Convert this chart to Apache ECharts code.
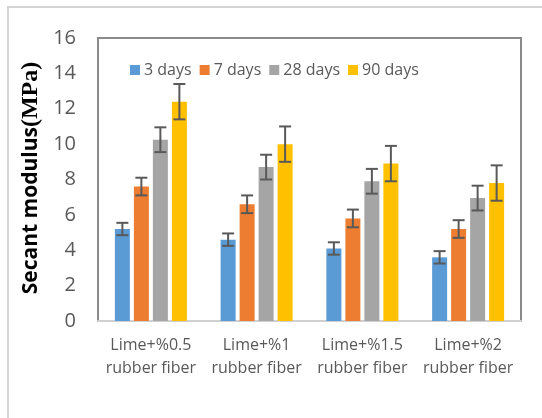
<!DOCTYPE html>
<html><head><meta charset="utf-8">
<script src="https://cdn.jsdelivr.net/npm/echarts@6/dist/echarts.min.js"></script>
<style>html,body{margin:0;padding:0;background:#fff}#c{width:542px;height:418px}</style>
</head><body><div id="c"></div>
<script>
const categories = ['Lime+%0.5\nrubber fiber','Lime+%1\nrubber fiber','Lime+%1.5\nrubber fiber','Lime+%2\nrubber fiber'];
const seriesNames = ['3 days','7 days','28 days','90 days'];
const colors = ['#5B9BD5','#ED7D31','#A5A5A5','#FFC000'];
const days3 = [5.2, 4.6, 4.1, 3.6];
const days7 = [7.6, 6.6, 5.8, 5.2];
const days28 = [10.25, 8.7, 7.9, 6.95];
const days90 = [12.4, 10.0, 8.9, 7.8];
const err3 = [0.35, 0.35, 0.35, 0.35];
const err7 = [0.5, 0.5, 0.5, 0.5];
const err28 = [0.7, 0.7, 0.7, 0.7];
const err90 = [1.0, 1.0, 1.0, 1.0];
const yTicks = [0, 2, 4, 6, 8, 10, 12, 14, 16];

const values = [days3, days7, days28, days90];
const errs = [err3, err7, err28, err90];
const BW = 15, GAP = 4;
const chart = echarts.init(document.getElementById('c'));
const series = [];
values.forEach((v, i) => {
  series.push({
    name: seriesNames[i], type: 'bar', data: v, barWidth: BW, barGap: (GAP / BW * 100) + '%',
    itemStyle: { color: colors[i] }, z: 2
  });
});
values.forEach((v, i) => {
  const offset = (i - 1.5) * (BW + GAP);
  series.push({
    type: 'custom', z: 5, silent: true,
    data: v.map((val, k) => [k, val - errs[i][k], val + errs[i][k]]),
    encode: { x: 0, y: [1, 2] },
    renderItem: function (params, api) {
      const lo = api.coord([api.value(0), api.value(1)]);
      const hi = api.coord([api.value(0), api.value(2)]);
      const x = lo[0] + offset, hw = 6;
      const st = { stroke: '#595959', lineWidth: 2 };
      return { type: 'group', children: [
        { type: 'line', shape: { x1: x, y1: hi[1], x2: x, y2: lo[1] }, style: st },
        { type: 'line', shape: { x1: x - hw, y1: hi[1], x2: x + hw, y2: hi[1] }, style: st },
        { type: 'line', shape: { x1: x - hw, y1: lo[1], x2: x + hw, y2: lo[1] }, style: st }
      ]};
    }
  });
});

chart.setOption({
  animation: false,
  graphic: [{
    type: 'rect', shape: { x: 8, y: 7, width: 560, height: 440 },
    style: { fill: 'none', stroke: '#d4d4d4', lineWidth: 2 }, z: 0
  }, {
    type: 'text', x: 31, y: 178, rotation: Math.PI / 2, z: 10,
    style: {
      text: '{a|Secant modulus}{b|(MPa)}', align: 'center', verticalAlign: 'middle',
      rich: {
        a: { fontFamily: 'Open Sans', fontWeight: 'bold', fontSize: 21, fill: '#000' },
        b: { fontFamily: 'Liberation Serif', fontWeight: 'bold', fontSize: 24, fill: '#000' }
      }
    }
  }],
  grid: { left: 98, top: 38, right: 21, bottom: 97, containLabel: false, show: true,
          borderColor: '#8a8a8a', borderWidth: 2, backgroundColor: 'transparent' },
  legend: {
    data: seriesNames, top: 57, left: 125, itemWidth: 10, itemHeight: 10, itemGap: 8,
    icon: 'rect', textStyle: { fontFamily: 'Open Sans', fontSize: 16, color: '#595959', padding: [0, 0, 0, -1] }
  },
  xAxis: {
    type: 'category', data: categories,
    axisLine: { lineStyle: { color: '#d0d0d0', width: 2 } },
    axisTick: { show: false },
    axisLabel: { interval: 0, fontFamily: 'Open Sans', fontSize: 16, color: '#595959', lineHeight: 23, margin: 13 }
  },
  yAxis: {
    type: 'value', min: 0, max: 16, interval: 2,
    axisLine: { show: false }, axisTick: { show: false }, splitLine: { show: false },
    axisLabel: { fontFamily: 'Open Sans', fontSize: 20, color: '#595959', margin: 22,
                 formatter: v => yTicks.includes(v) ? String(v) : '' }
  },
  series: series
});
</script></body></html>
